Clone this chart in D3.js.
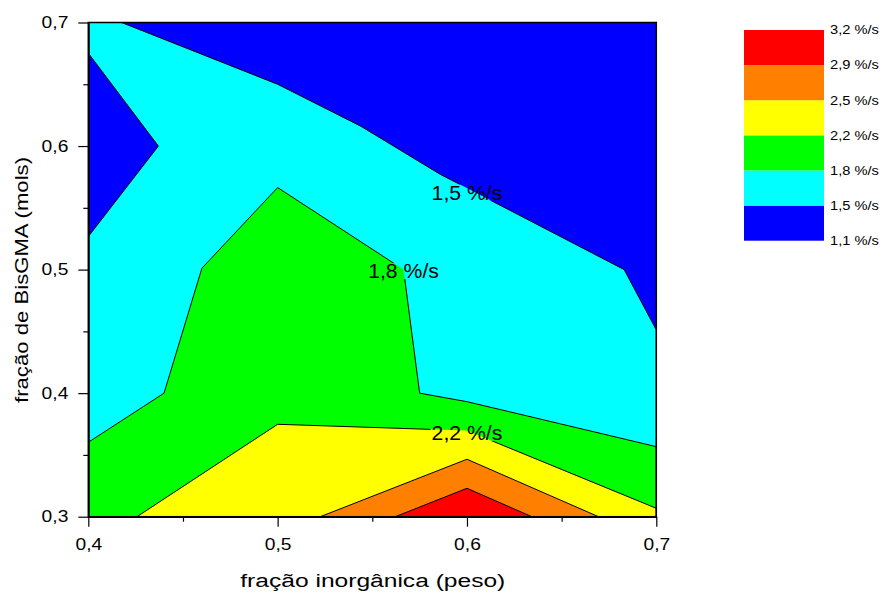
<!DOCTYPE html>
<html>
<head>
<meta charset="utf-8">
<script src="https://cdn.jsdelivr.net/npm/d3@7"></script>
<style>
  body { margin: 0; background: #fff; }
  text { font-family: "Liberation Sans", Arial, sans-serif; fill: #000; }
</style>
</head>
<body>
<div id="chart"></div>
<script>
// axes
const xDomain = [0.4, 0.7];
const yDomain = [0.3, 0.7];
const xMajor = [0.4, 0.5, 0.6, 0.7];
const xMinor = [0.45, 0.55, 0.65];
const yMajor = [0.3, 0.4, 0.5, 0.6, 0.7];
const yMinor = [0.35, 0.45, 0.55, 0.65];

// contour levels (%/s) and band colours, low -> high
const levels = [1.1, 1.5, 1.8, 2.2, 2.5, 2.9, 3.2];
const bandColors = ["#0000ff", "#00ffff", "#00ff00", "#ffff00", "#ff8000", "#ff0000"];

// regions above each level, [fração inorgânica, fração BisGMA]
const above15 = [[0.4, 0.5267], [0.437, 0.6], [0.4, 0.6752], [0.4, 0.7], [0.4176, 0.7],
  [0.5, 0.65], [0.544, 0.616], [0.586, 0.577], [0.6, 0.566], [0.683, 0.5],
  [0.7, 0.4512], [0.7, 0.3], [0.4, 0.3]];
const above18 = [[0.4, 0.3602], [0.44, 0.4], [0.46, 0.5011], [0.5, 0.5664], [0.5665, 0.5],
  [0.575, 0.4], [0.6, 0.3931], [0.7, 0.3567], [0.7, 0.3], [0.4, 0.3]];
const above22 = [[0.4257, 0.3], [0.5, 0.3748], [0.6, 0.3697], [0.7, 0.3068], [0.7, 0.3]];
const above25 = [[0.5225, 0.3], [0.6, 0.3465], [0.6695, 0.3]];
const above29 = [[0.5621, 0.3], [0.6, 0.323], [0.6343, 0.3]];

const contourLabels = [
  { text: "1,5 %/s", x: 0.6, y: 0.5625 },
  { text: "1,8 %/s", x: 0.5665, y: 0.499 },
  { text: "2,2 %/s", x: 0.6, y: 0.368 }
];

const W = 885, H = 594;
const m = { left: 88.3, right: 656.3, top: 22.5, bottom: 516.7 };

const svg = d3.select("#chart").append("svg")
  .attr("width", W).attr("height", H);

const x = d3.scaleLinear().domain(xDomain).range([m.left, m.right]);
const y = d3.scaleLinear().domain(yDomain).range([m.bottom, m.top]);

const comma = v => d3.format(".1f")(v).replace(".", ",");

// widen text a bit, the original font is set wider
function stretch(sel, k) {
  sel.each(function() {
    const len = this.getComputedTextLength();
    d3.select(this).attr("textLength", len * k).attr("lengthAdjust", "spacingAndGlyphs");
  });
}

const defs = svg.append("defs");
defs.append("clipPath").attr("id", "plotclip")
  .append("rect")
  .attr("x", m.left).attr("y", m.top)
  .attr("width", m.right - m.left).attr("height", m.bottom - m.top);

const line = d3.line().x(d => x(d[0])).y(d => y(d[1]));
const regions = [above15, above18, above22, above25, above29];

const plot = svg.append("g").attr("clip-path", "url(#plotclip)");

// lowest band fills the whole plot
plot.append("rect")
  .attr("x", x(xDomain[0])).attr("y", y(yDomain[1]))
  .attr("width", x(xDomain[1]) - x(xDomain[0]))
  .attr("height", y(yDomain[0]) - y(yDomain[1]))
  .attr("fill", bandColors[0]);

plot.selectAll("path.fill")
  .data(regions)
  .enter().append("path")
  .attr("class", "fill")
  .attr("d", d => line(d) + "Z")
  .attr("fill", (d, i) => bandColors[i + 1]);

// labels first so the lines can be cut under them
const labG = svg.append("g");
labG.selectAll("text")
  .data(contourLabels)
  .enter().append("text")
  .attr("x", d => x(d.x))
  .attr("y", d => y(d.y) + 7.2)
  .attr("text-anchor", "middle")
  .style("font-size", "20px")
  .text(d => d.text)
  .call(stretch, 1.06);

const mask = defs.append("mask").attr("id", "labmask")
  .attr("maskUnits", "userSpaceOnUse")
  .attr("x", 0).attr("y", 0).attr("width", W).attr("height", H);
mask.append("rect").attr("x", 0).attr("y", 0).attr("width", W).attr("height", H).attr("fill", "#fff");
labG.selectAll("text").each(function() {
  const b = this.getBBox();
  mask.append("rect")
    .attr("x", b.x - 1).attr("y", b.y + 3)
    .attr("width", b.width + 2).attr("height", b.height - 6)
    .attr("fill", "#000");
});

plot.append("g").attr("mask", "url(#labmask)")
  .selectAll("path")
  .data(regions)
  .enter().append("path")
  .attr("d", d => line(d) + "Z")
  .attr("fill", "none")
  .attr("stroke", "#000")
  .attr("stroke-width", 1);

labG.raise();

// frame
svg.append("rect")
  .attr("x", m.left).attr("y", m.top)
  .attr("width", m.right - m.left).attr("height", m.bottom - m.top)
  .attr("fill", "none").attr("stroke", "#000").attr("stroke-width", 1.5);

// axes
const gx = svg.append("g").attr("transform", `translate(0,${m.bottom})`);
gx.call(d3.axisBottom(x).tickValues(xMajor).tickSize(10).tickSizeOuter(0).tickPadding(12).tickFormat(comma));
gx.append("g").call(d3.axisBottom(x).tickValues(xMinor).tickSize(5).tickSizeOuter(0).tickFormat(""));

const gy = svg.append("g").attr("transform", `translate(${m.left},0)`);
gy.call(d3.axisLeft(y).tickValues(yMajor).tickSize(10).tickSizeOuter(0).tickPadding(10).tickFormat(comma));
gy.append("g").call(d3.axisLeft(y).tickValues(yMinor).tickSize(5).tickSizeOuter(0).tickFormat(""));

svg.selectAll(".domain").attr("stroke", "#000").attr("stroke-width", 1.5);
svg.selectAll(".tick line").attr("stroke", "#000").attr("stroke-width", 1.2);
svg.selectAll(".tick text")
  .style("font-size", "16px")
  .style("font-family", "'Liberation Sans', Arial, sans-serif")
  .attr("fill", "#000")
  .call(stretch, 1.2);

// axis titles
svg.append("text")
  .attr("x", (m.left + m.right) / 2 + 0.5)
  .attr("y", 587)
  .attr("text-anchor", "middle")
  .style("font-size", "18px")
  .attr("textLength", 265).attr("lengthAdjust", "spacingAndGlyphs")
  .text("fração inorgânica (peso)");

svg.append("text")
  .attr("transform", "translate(28,280) rotate(-90)")
  .attr("text-anchor", "middle")
  .style("font-size", "18px")
  .attr("textLength", 246).attr("lengthAdjust", "spacingAndGlyphs")
  .text("fração de BisGMA (mols)");

// legend
const ly = d3.scaleLinear().domain([0, levels.length - 1]).range([240.7, 30]);
const legend = svg.append("g");
legend.selectAll("rect")
  .data(bandColors)
  .enter().append("rect")
  .attr("x", 744).attr("width", 80)
  .attr("y", (d, i) => ly(i + 1))
  .attr("height", (d, i) => ly(i) - ly(i + 1))
  .attr("fill", d => d);

legend.selectAll("text")
  .data(levels)
  .enter().append("text")
  .attr("x", 830)
  .attr("y", (d, i) => ly(i) + 4.3)
  .style("font-size", "12px")
  .text(d => comma(d) + " %/s")
  .call(stretch, 1.22);
</script>
</body>
</html>
